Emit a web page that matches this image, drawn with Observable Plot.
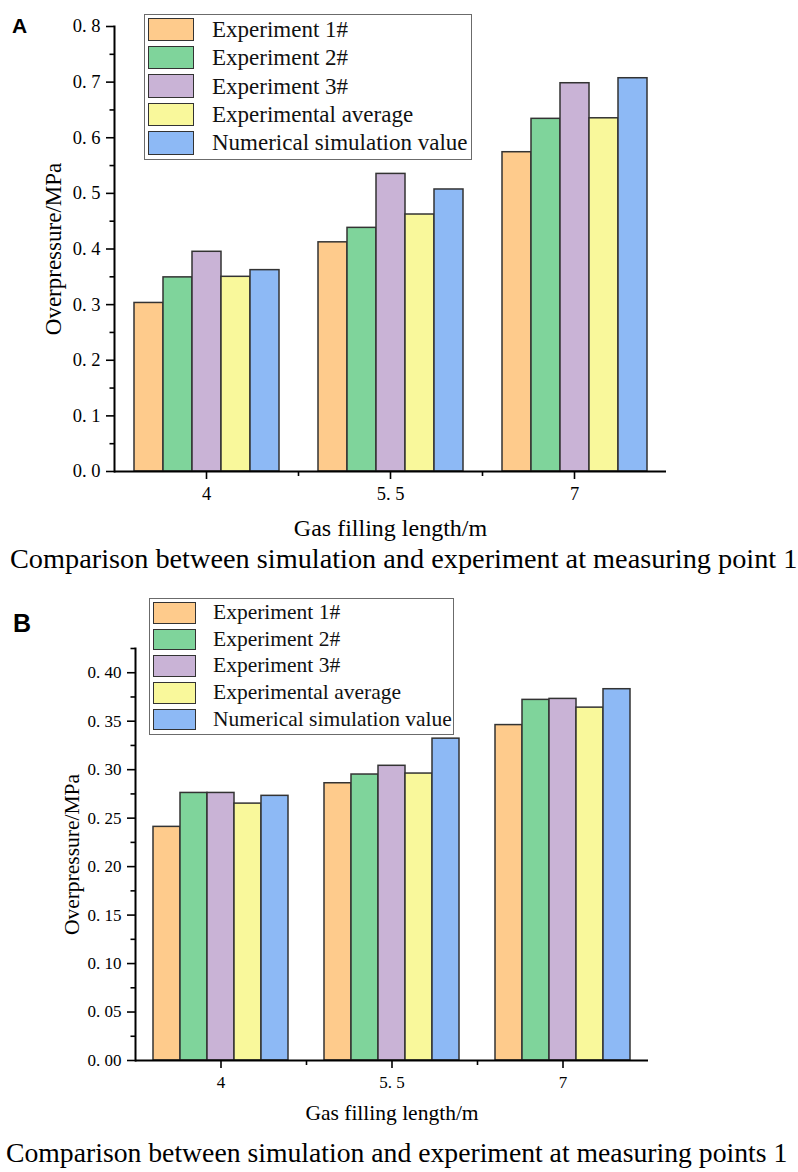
<!DOCTYPE html>
<html>
<head>
<meta charset="utf-8">
<script src="https://cdn.jsdelivr.net/npm/d3@7"></script>
<script src="https://cdn.jsdelivr.net/npm/@observablehq/plot@0.6"></script>
<style>
  html, body { margin: 0; padding: 0; background: #fff; }
  #page { position: relative; width: 798px; height: 1172px; overflow: hidden; background: #fff; font-family: "Liberation Serif", "Times New Roman", serif; }
  .panel { position: absolute; left: 0; }
  .letter { position: absolute; font-family: "Liberation Sans", Arial, sans-serif; font-weight: bold; color: #000; line-height: 1; }
  .caption { position: absolute; white-space: nowrap; color: #000; line-height: 1; }
  .legend { position: absolute; box-sizing: border-box; border: 1.3px solid #6b6b6b; background: #fff; z-index: 5; }
  .legend .sw { box-sizing: border-box; border: 1.6px solid #333; }
  .legend .lab { position: absolute; white-space: nowrap; color: #111; line-height: 1; }
</style>
</head>
<body>
<div id="page"></div>
<script>
// ---------- data ----------
const lengths = [4, 5.5, 7];
const series = ["Experiment 1#", "Experiment 2#", "Experiment 3#", "Experimental average", "Numerical simulation value"];
const colors = ["#FECB8C", "#7FD49B", "#C9B3D6", "#F9F89B", "#8DB9F5"];

// Panel A: measuring point 1 (values for lengths 4, 5.5, 7)
const a_exp1 = [0.303, 0.412, 0.574];
const a_exp2 = [0.349, 0.438, 0.634];
const a_exp3 = [0.395, 0.535, 0.698];
const a_avg  = [0.350, 0.462, 0.635];
const a_sim  = [0.362, 0.507, 0.707];
const a_ticks = [0, 0.1, 0.2, 0.3, 0.4, 0.5, 0.6, 0.7, 0.8];
const a_minor = [0.05, 0.15, 0.25, 0.35, 0.45, 0.55, 0.65, 0.75];

// Panel B: measuring point 2
const b_exp1 = [0.241, 0.286, 0.346];
const b_exp2 = [0.276, 0.295, 0.372];
const b_exp3 = [0.276, 0.304, 0.373];
const b_avg  = [0.265, 0.296, 0.364];
const b_sim  = [0.273, 0.332, 0.383];
const b_ticks = [0, 0.05, 0.10, 0.15, 0.20, 0.25, 0.30, 0.35, 0.40];
const b_minor = [0.025, 0.075, 0.125, 0.175, 0.225, 0.275, 0.325, 0.375, 0.425];

const xLabel = "Gas filling length/m";
const yLabel = "Overpressure/MPa";
const captionA = "Comparison between simulation and experiment at measuring point 1";
const captionB = "Comparison between simulation and experiment at measuring points 1";

// ---------- helpers ----------
function toRows(arrs) {
  const rows = [];
  arrs.forEach((vals, si) => vals.forEach((v, li) => rows.push({len: lengths[li], series: series[si], value: v})));
  return rows;
}
const fmtLen = d => String(d).replace(".", ". ");
const minorTick = { draw(ctx) { ctx.moveTo(0, 0); ctx.lineTo(0, 4.5); } };

function makePlot(cfg) {
  const rows = toRows(cfg.data);
  return Plot.plot({
    width: 798,
    height: cfg.height,
    marginLeft: cfg.ml,
    marginRight: cfg.mr,
    marginTop: cfg.mt,
    marginBottom: cfg.mb,
    style: { fontFamily: "'Liberation Serif', 'Times New Roman', serif", color: "#000", background: "transparent", overflow: "visible" },
    fx: { domain: lengths, paddingInner: 0, paddingOuter: 0, label: null },
    x: { domain: series, paddingInner: 0, paddingOuter: 0.625, axis: null },
    y: { domain: cfg.ydomain, axis: null },
    color: { domain: series, range: colors },
    marks: [
      Plot.barY(rows, { fx: "len", x: "series", y: "value", fill: "series", stroke: "#333", strokeWidth: 1.5 }),
      Plot.ruleY([0], { stroke: "#000", strokeWidth: 2 }),
      Plot.frame({ anchor: "left", facetAnchor: "left", stroke: "#000", strokeWidth: 2 }),
      Plot.axisY({ ticks: cfg.ticks, tickSize: 8, tickPadding: 6, tickFormat: d => d.toFixed(cfg.dec).replace(".", ". "),
        fontSize: cfg.tickFont, strokeWidth: 1.6, facetAnchor: "left", label: null }),
      Plot.axisY({ ticks: cfg.minor, tickSize: 4.5, tickFormat: () => "", strokeWidth: 1.6, facetAnchor: "left", label: null }),
      Plot.axisY({ ticks: [], tickSize: 0, facetAnchor: "left", fontSize: cfg.yLabelFont,
        label: yLabel, labelAnchor: "center", labelArrow: "none", labelOffset: cfg.ylo }),
      Plot.axisFx({ anchor: "bottom", tickSize: 8, tickPadding: 7, tickFormat: fmtLen, fontSize: cfg.tickFont, strokeWidth: 1.6,
        label: null }),
      Plot.axisFx({ anchor: "bottom", ticks: [], tickSize: 0, fontSize: cfg.xLabelFont,
        label: xLabel, labelAnchor: "center", labelArrow: "none", labelOffset: cfg.xlo }),
      Plot.dot(lengths.slice(0, -1), { fx: d => d, frameAnchor: "bottom-right", symbol: minorTick, stroke: "#000", fill: "none", strokeWidth: 1.6 })
    ]
  });
}

function makeLegend(parent, L) {
  const box = document.createElement("div");
  box.className = "legend";
  Object.assign(box.style, { left: L.left + "px", top: L.top + "px", width: L.width + "px", height: L.height + "px" });
  series.forEach((s, i) => {
    const sw = document.createElement("div");
    sw.className = "sw";
    Object.assign(sw.style, { position: "absolute", left: L.swLeft + "px", top: (L.swTop + i * L.pitch) + "px",
      width: L.swW + "px", height: L.swH + "px", background: colors[i] });
    box.appendChild(sw);
    const lab = document.createElement("div");
    lab.className = "lab";
    lab.textContent = s;
    Object.assign(lab.style, { left: L.textLeft + "px", top: (L.swTop + i * L.pitch + L.swH / 2 - L.font * 0.5) + "px",
      fontSize: L.font + "px" });
    box.appendChild(lab);
  });
  parent.appendChild(box);
}

function addText(parent, cls, text, left, top, size) {
  const el = document.createElement("div");
  el.className = cls;
  el.textContent = text;
  Object.assign(el.style, { left: left + "px", top: top + "px", fontSize: size + "px" });
  parent.appendChild(el);
}

const page = document.getElementById("page");

// ---------- Panel A ----------
const cfgA = { data: [a_exp1, a_exp2, a_exp3, a_avg, a_sim], height: 545, ml: 114, mr: 132, mt: 26, mb: 74,
  ydomain: [0, 0.8], ticks: a_ticks, minor: a_minor, dec: 1, tickFont: 18.5, ylo: 70, xlo: 64,
  xLabelFont: 24, yLabelFont: 23 };
const divA = document.createElement("div");
divA.className = "panel"; divA.style.top = "0px";
divA.appendChild(makePlot(cfgA));
page.appendChild(divA);
addText(page, "letter", "A", 12, 15, 21);
makeLegend(page, { left: 144, top: 14, width: 328, height: 146, swLeft: 3, swTop: 2.5, pitch: 28.4, swW: 46, swH: 23.5, textLeft: 67, font: 23 });
addText(page, "caption", captionA, 10, 545, 28.3);

// ---------- Panel B ----------
const cfgB = { data: [b_exp1, b_exp2, b_exp3, b_avg, b_sim], height: 506, ml: 135, mr: 150, mt: 28, mb: 66,
  ydomain: [0, 0.425], ticks: b_ticks, minor: b_minor, dec: 2, tickFont: 17, ylo: 72, xlo: 59,
  xLabelFont: 21.5, yLabelFont: 21.5 };
const divB = document.createElement("div");
divB.className = "panel"; divB.style.top = "620px";
divB.appendChild(makePlot(cfgB));
page.appendChild(divB);
addText(page, "letter", "B", 13, 611, 25);
makeLegend(page, { left: 149, top: 598, width: 305, height: 137, swLeft: 3, swTop: 3, pitch: 26.7, swW: 43, swH: 21.5, textLeft: 63, font: 21.5 });
addText(page, "caption", captionB, 6, 1139, 27.7);
</script>
</body>
</html>
